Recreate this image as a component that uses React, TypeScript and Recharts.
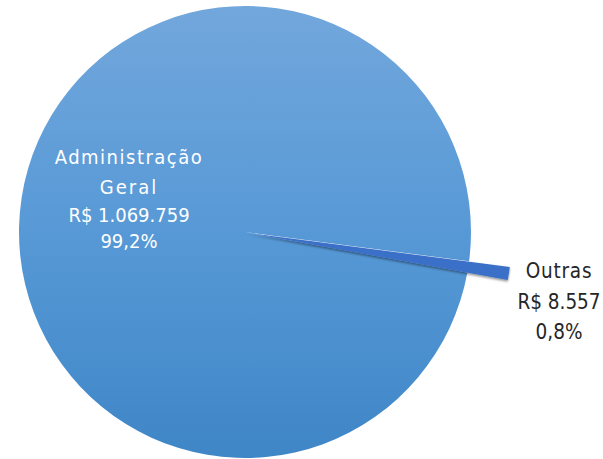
import React from "react";
import { PieChart, Pie, Cell } from "recharts";

const categories = ["Administração Geral", "Outras"];
const values = [1069759, 8557];
const valueLabels = ["R$ 1.069.759", "R$ 8.557"];
const percentLabels = ["99,2%", "0,8%"];

const data = categories.map((name, i) => ({ name, value: values[i] }));

const CX = 245;
const CY = 232;
const R = 226;
const START = -10.3;

const renderLabel = (props: any) => {
  const { index, cx, cy } = props;
  if (index === 0) {
    const x = cx - 116;
    const y = cy - 68;
    return (
      <text x={x} y={y} textAnchor="middle" fill="#ffffff" fontFamily="'DejaVu Sans Condensed', 'DejaVu Sans', sans-serif" fontSize={20}>
        <tspan x={x} dy={0} letterSpacing={1.5}>Administração</tspan>
        <tspan x={x} dy={30} letterSpacing={2}>Geral</tspan>
        <tspan x={x} dy={28}>{valueLabels[0]}</tspan>
        <tspan x={x} dy={26}>{percentLabels[0]}</tspan>
      </text>
    );
  }
  return null;
};

const renderLabel2 = (props: any) => {
  const { index, cx, cy } = props;
  if (index === 1) {
    const x = cx + 310;
    const y = cy + 45;
    return (
      <text x={x} y={y} textAnchor="middle" fill="#262626" fontFamily="'DejaVu Sans Condensed', 'DejaVu Sans', sans-serif" fontSize={20.5}>
        <tspan x={x} dy={0} letterSpacing={0.8}>Outras</tspan>
        <tspan x={x} dy={31}>{valueLabels[1]}</tspan>
        <tspan x={x} dy={30}>{percentLabels[1]}</tspan>
      </text>
    );
  }
  return null;
};

export default function App() {
  return (
    <div style={{ position: "absolute", left: 0, top: 0, width: 603, height: 459, background: "#fff" }}>
      <PieChart width={603} height={459} margin={{ top: 0, right: 0, bottom: 0, left: 0 }}>
        <defs>
          <linearGradient id="adminGrad" x1="0" y1="0" x2="0" y2="1">
            <stop offset="0%" stopColor="#72a7dc" />
            <stop offset="50%" stopColor="#5799d6" />
            <stop offset="100%" stopColor="#3f86c7" />
          </linearGradient>
          <filter id="sh" x="-10%" y="-50%" width="120%" height="200%">
            <feDropShadow dx="0" dy="1.5" stdDeviation="1.2" floodColor="#000" floodOpacity="0.45" />
          </filter>
        </defs>
        <Pie
          data={data}
          dataKey="value"
          nameKey="name"
          cx={CX}
          cy={CY}
          outerRadius={R}
          startAngle={START}
          endAngle={START - 360}
          stroke="none"
          isAnimationActive={false}
          labelLine={false}
          label={renderLabel}
        >
          <Cell fill="url(#adminGrad)" />
          <Cell fill="transparent" />
        </Pie>
        <Pie
          data={data}
          dataKey="value"
          nameKey="name"
          cx={CX + 4}
          cy={CY + 1}
          outerRadius={263}
          startAngle={START}
          endAngle={START - 360}
          stroke="none"
          isAnimationActive={false}
          labelLine={false}
          label={renderLabel2}
        >
          <Cell fill="transparent" />
          <Cell fill="#3a6fc9" filter="url(#sh)" />
        </Pie>
      </PieChart>
    </div>
  );
}
